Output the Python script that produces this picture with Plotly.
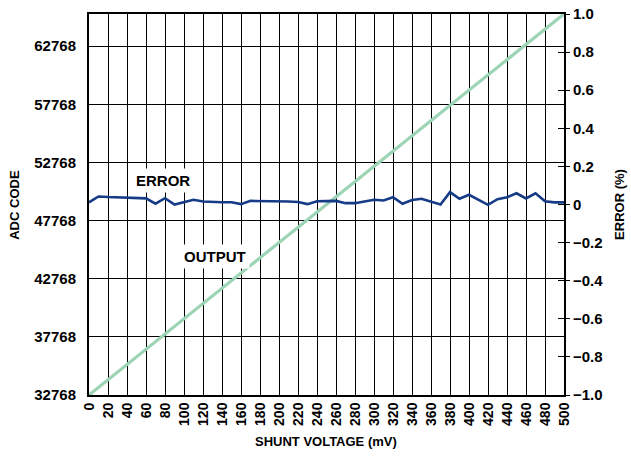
import plotly.graph_objects as go

# Data
shunt_out = [0, 20, 40, 60, 80, 100, 120, 140, 160, 180, 200, 220, 240, 260,
             280, 300, 320, 340, 360, 380, 400, 420, 440, 460, 480, 500]
adc_code = [32768, 34079, 35389, 36700, 38011, 39321, 40632, 41943, 43253, 44564,
            45875, 47185, 48496, 49807, 51117, 52428, 53739, 55049, 56360, 57671,
            58981, 60292, 61603, 62913, 64224, 65535]

shunt_err = [0, 10, 20, 30, 40, 50, 60, 70, 80, 90, 100, 110, 120, 130, 140, 150,
             160, 170, 180, 190, 200, 210, 220, 230, 240, 250, 260, 270, 280, 290,
             300, 310, 320, 330, 340, 350, 360, 370, 380, 390, 400, 410, 420, 430,
             440, 450, 460, 470, 480, 490, 500]
error_pct = [0.011, 0.042, 0.039, 0.037, 0.037, 0.035, 0.032, 0.004, 0.033, 0.000,
             0.011, 0.025, 0.016, 0.013, 0.012, 0.012, 0.002, 0.019, 0.018, 0.019,
             0.019, 0.016, 0.013, 0.002, 0.017, 0.019, 0.019, 0.007, 0.007, 0.016,
             0.025, 0.021, 0.038, 0.004, 0.024, 0.030, 0.016, 0.000, 0.065, 0.030,
             0.051, 0.026, -0.002, 0.028, 0.038, 0.059, 0.032, 0.059, 0.017, 0.011,
             0.011]

x_ticks = list(range(0, 501, 20))
left_ticks = [32768, 37768, 42768, 47768, 52768, 57768, 62768]
right_ticks = [-1.0, -0.8, -0.6, -0.4, -0.2, 0, 0.2, 0.4, 0.6, 0.8, 1.0]
right_labels = ["\u22121.0", "\u22120.8", "\u22120.6", "\u22120.4", "\u22120.2", "0",
                "0.2", "0.4", "0.6", "0.8", "1.0"]

FONT = "Liberation Sans, Arial, sans-serif"
GREEN = "#9dd4b6"
BLUE = "#163b87"

fig = go.Figure()
fig.add_trace(go.Scatter(x=shunt_out, y=adc_code, mode="lines",
                         line=dict(color=GREEN, width=3.2), yaxis="y", showlegend=False))
fig.add_trace(go.Scatter(x=shunt_err, y=error_pct, mode="lines",
                         line=dict(color=BLUE, width=2.6), yaxis="y2", showlegend=False))
fig.add_trace(go.Scatter(x=[None], y=[None], yaxis="y3", showlegend=False, hoverinfo="skip"))

fig.update_layout(
    width=631, height=458,
    margin=dict(l=89, r=67, t=14, b=63, autoexpand=False),
    paper_bgcolor="white", plot_bgcolor="white",
    font=dict(family=FONT, color="black"),
    xaxis=dict(range=[0, 500], tickvals=x_ticks, ticktext=["<b>%d</b>" % v for v in x_ticks],
               tickangle=-90, tickfont=dict(size=14), ticks="", automargin=False,
               showgrid=True, gridcolor="black", gridwidth=1.2,
               showline=True, linecolor="black", linewidth=2, mirror=True,
               zeroline=False),
    yaxis=dict(range=[32768, 65535], tickvals=left_ticks,
               ticktext=["<b>%d</b>" % v for v in left_ticks],
               tickfont=dict(size=15), ticks="", ticklabelstandoff=8, automargin=False,
               showgrid=True, gridcolor="black", gridwidth=1.2,
               showline=True, linecolor="black", linewidth=2, mirror=True,
               zeroline=False),
    yaxis2=dict(range=[-1, 1], overlaying="y", side="right", automargin=False,
                tickvals=right_ticks, ticktext=["<b>%s</b>" % t for t in right_labels],
                tickfont=dict(size=15), ticks="outside", ticklen=5, tickwidth=1.2,
                tickcolor="black", showgrid=False, zeroline=False, showline=False,
                ticklabeloverflow="allow"),
    yaxis3=dict(range=[-1, 1], overlaying="y", side="right", anchor="x", automargin=False,
                tickvals=right_ticks, showticklabels=False, ticks="inside", ticklen=6,
                tickwidth=1.2, tickcolor="black", showgrid=False, zeroline=False,
                showline=False),
    annotations=[
        dict(x=78, y=0.125, xref="x", yref="y2", text="<b>ERROR</b>", showarrow=False,
             font=dict(size=15), bgcolor="white", borderpad=3),
        dict(x=133, y=44664, xref="x", yref="y", text="<b>OUTPUT</b>", showarrow=False,
             font=dict(size=15), bgcolor="white", borderpad=3),
        dict(x=0.499, y=-0.121, xref="paper", yref="paper",
             text="<b>SHUNT VOLTAGE (mV)</b>", showarrow=False, font=dict(size=13)),
        dict(x=-0.156, y=0.499, xref="paper", yref="paper",
             text="<b>ADC CODE</b>", showarrow=False, textangle=-90, font=dict(size=13)),
        dict(x=1.118, y=0.499, xref="paper", yref="paper",
             text="<b>ERROR (%)</b>", showarrow=False, textangle=-90, font=dict(size=13)),
    ],
)
for a in fig.layout.annotations:
    if a.xref == "paper":
        a.xanchor = "center"
        a.yanchor = "middle"

fig.write_html("out.html", config={"displayModeBar": False},
               post_script="document.body.style.margin='0';document.body.style.overflow='hidden';")
